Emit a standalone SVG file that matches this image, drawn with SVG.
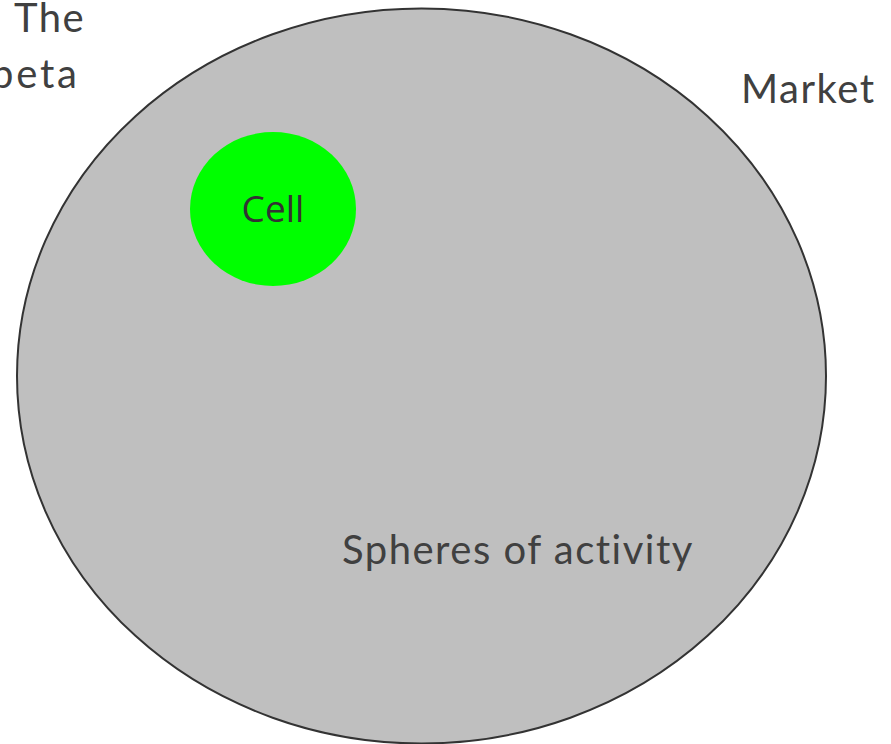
<svg xmlns="http://www.w3.org/2000/svg" width="891" height="744" viewBox="0 0 891 744">
<style>
.lbl{font-family:Lato,"Open Sans","Liberation Sans",sans-serif;font-size:40px;fill:#404040;letter-spacing:1.5px}
.cell{font-family:"Open Sans","Noto Sans","Liberation Sans",sans-serif;font-size:37px;fill:#333333}
</style>
<rect width="891" height="744" fill="#ffffff"/>
<g id="title">
<text class="lbl" x="14" y="32">The</text>
<text class="lbl" x="-9" y="88" style="letter-spacing:2.8px">beta</text>
</g>
<g id="spheres">
<ellipse cx="421.5" cy="376" rx="404.5" ry="367.5" fill="#bfbfbf" stroke="#333333" stroke-width="2"/>
<text class="lbl" x="342" y="564">Spheres of activity</text>
</g>
<g id="market">
<text class="lbl" x="741" y="103">Market</text>
</g>
<g id="cell">
<ellipse cx="273" cy="209" rx="83" ry="77" fill="#00ff00"/>
<text class="cell" x="273" y="222" text-anchor="middle">Cell</text>
</g>
<g id="connectors"/>
</svg>
